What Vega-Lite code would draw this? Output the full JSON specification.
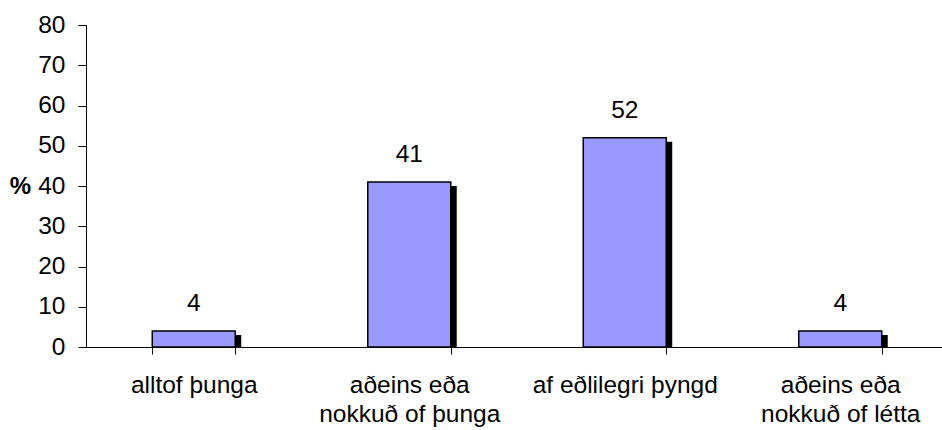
{
  "$schema": "https://vega.github.io/schema/vega-lite/v6.json",
  "autosize": "none",
  "width": 856,
  "height": 322,
  "padding": {"left": 86, "top": 25, "right": 0, "bottom": 83},
  "background": "white",
  "config": {
    "view": {"stroke": null},
    "font": "Liberation Sans",
    "axis": {"domainColor": "black", "tickColor": "black", "labelColor": "black", "titleColor": "black", "grid": false, "labelFont": "Liberation Sans", "titleFont": "Liberation Sans"}
  },
  "data": {
    "values": [
      {"category": "alltof þunga", "value": 4},
      {"category": "aðeins eða nokkuð of þunga", "value": 41},
      {"category": "af eðlilegri þyngd", "value": 52},
      {"category": "aðeins eða nokkuð of létta", "value": 4}
    ]
  },
  "encoding": {
    "x": {
      "field": "category",
      "type": "nominal",
      "sort": null,
      "scale": {"range": [0, 862], "paddingInner": 0.615, "paddingOuter": 0.3075},
      "axis": {
        "title": null,
        "labelAngle": 0,
        "labelFontSize": 24.5,
        "labelLimit": 0,
        "labelPadding": 19,
        "labelBaseline": "top",
        "labelLineHeight": 29,
        "tickBand": "extent",
        "tickSize": 7,
        "domainWidth": 1,
        "labelExpr": "datum.label == 'aðeins eða nokkuð of þunga' ? ['aðeins eða', 'nokkuð of þunga'] : datum.label == 'aðeins eða nokkuð of létta' ? ['aðeins eða', 'nokkuð of létta'] : datum.label"
      }
    },
    "y": {
      "field": "value",
      "type": "quantitative",
      "scale": {"domain": [0, 80], "nice": false},
      "axis": {
        "values": [0, 10, 20, 30, 40, 50, 60, 70, 80],
        "title": "%",
        "titleAngle": 0,
        "titleFontWeight": "bold",
        "titleFontSize": 24,
        "titleX": -66,
        "titleY": 161,
        "titleAlign": "center",
        "titleBaseline": "middle",
        "labelFontSize": 24.5,
        "tickSize": 8,
        "labelPadding": 13
      }
    }
  },
  "layer": [
    {
      "mark": {"type": "bar", "color": "black", "xOffset": 6, "x2Offset": 6, "yOffset": 4, "clip": true}
    },
    {
      "mark": {"type": "bar", "color": "#9999FF", "stroke": "black", "strokeWidth": 1.5}
    },
    {
      "mark": {"type": "text", "fontSize": 24.5, "baseline": "alphabetic", "dy": -20, "color": "black"},
      "encoding": {"text": {"field": "value", "type": "quantitative"}}
    }
  ]
}
